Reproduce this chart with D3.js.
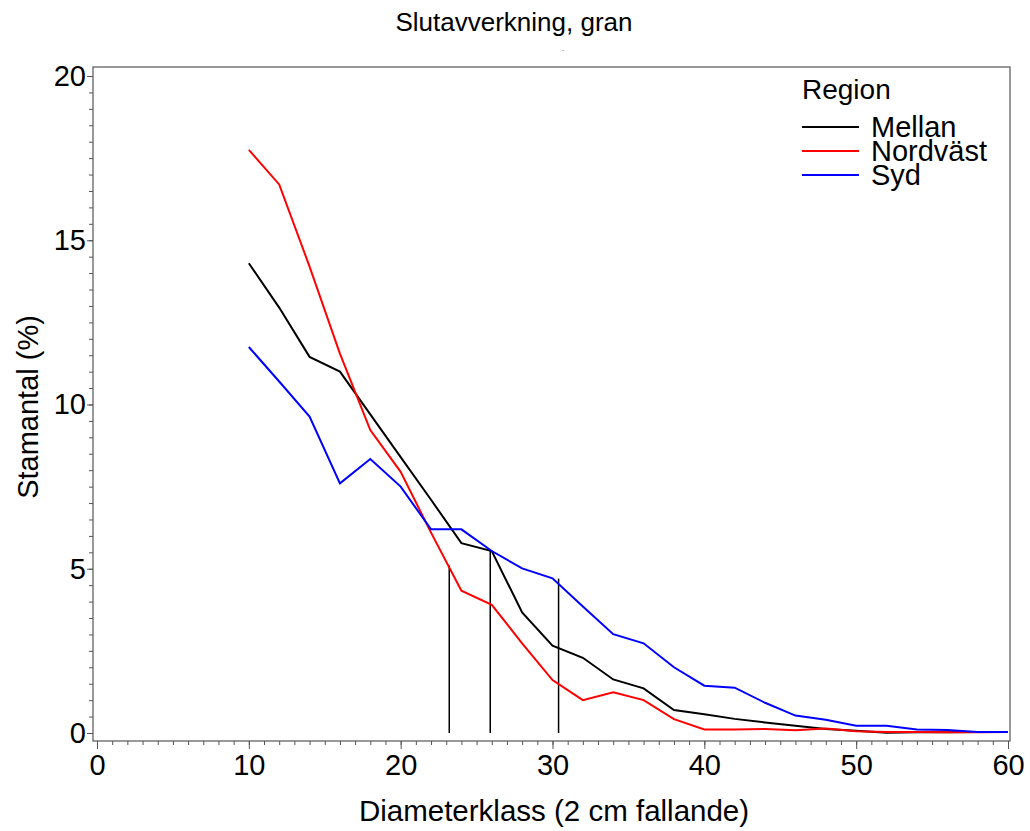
<!DOCTYPE html>
<html lang="sv">
<head>
<meta charset="UTF-8">
<script src="https://cdnjs.cloudflare.com/ajax/libs/d3/7.8.5/d3.min.js"></script>
<title>Slutavverkning, gran</title>
<style>
  body { margin: 0; background: #fff; }
  text { font-family: "Liberation Sans", Arial, sans-serif; }
</style>
</head>
<body>
<div id="graph"></div>
<script>
// diameter classes (cm)
let diam = [10, 12, 14, 16, 18, 20, 22, 24, 26, 28, 30, 32, 34, 36, 38, 40, 42, 44, 46, 48, 50, 52, 54, 56, 58, 60];

// stem count share (%) per region
let mellan = [14.3, 12.95, 11.45, 11.0, 9.7, 8.4, 7.1, 5.78, 5.54, 3.67, 2.66, 2.29, 1.63, 1.36, 0.70, 0.57, 0.43, 0.32, 0.22, 0.12, 0.07, 0.01, 0.02, 0.02, 0.03, 0.03];
let nordvast = [17.75, 16.7, 14.2, 11.55, 9.22, 7.95, 6.1, 4.33, 3.9, 2.73, 1.61, 1.0, 1.24, 1.0, 0.42, 0.11, 0.11, 0.12, 0.08, 0.14, 0.05, 0.03, 0.03, 0.02, 0.02, 0.03];
let syd = [11.75, 10.7, 9.63, 7.6, 8.34, 7.5, 6.2, 6.2, 5.54, 5.01, 4.71, 3.85, 3.01, 2.73, 2.0, 1.44, 1.38, 0.92, 0.53, 0.4, 0.22, 0.22, 0.11, 0.09, 0.03, 0.03];

// vertical reference lines (x position, height)
let dropX = [23.2, 25.9, 30.4];
let dropY = [5.1, 5.55, 4.7];

let regions = ["Mellan", "Nordväst", "Syd"];
let colors = ["#000000", "#ff0000", "#0000ff"];
let seriesList = [mellan, nordvast, syd];

let xTicks = [0, 10, 20, 30, 40, 50, 60];
let yTicks = [0, 5, 10, 15, 20];

let width = 1030;
let height = 831;

// plot frame
let frameLeft = 93, frameTop = 67, frameRight = 1010, frameBottom = 741;

let x = d3.scaleLinear().domain([0, 60]).range([97, 1008]);
let y = d3.scaleLinear().domain([0, 20]).range([733, 76]);

let svg = d3.select("#graph")
  .append("svg")
  .attr("width", width)
  .attr("height", height);

// title
svg.append("text")
  .attr("x", 514).attr("y", 31)
  .attr("text-anchor", "middle")
  .attr("font-size", "26px")
  .text("Slutavverkning, gran");

svg.append("text")
  .attr("x", 563).attr("y", 52)
  .attr("text-anchor", "middle")
  .attr("font-size", "8px")
  .attr("fill", "#888")
  .text("-");

// frame
svg.append("rect")
  .attr("x", frameLeft).attr("y", frameTop)
  .attr("width", frameRight - frameLeft)
  .attr("height", frameBottom - frameTop)
  .attr("fill", "none")
  .attr("stroke", "#555")
  .attr("stroke-width", 1.2);

// y axis: minor then major
let yMinor = d3.range(0, 20.01, 0.5);
let yAxisMinor = svg.append("g")
  .attr("transform", "translate(" + frameLeft + ",0)")
  .call(d3.axisLeft(y).tickValues(yMinor).tickSize(4).tickFormat(""));
yAxisMinor.select(".domain").remove();
yAxisMinor.selectAll("line").attr("stroke", "#555");

let yAxis = svg.append("g")
  .attr("transform", "translate(" + frameLeft + ",0)")
  .call(d3.axisLeft(y).tickValues(yTicks).tickSize(6).tickPadding(1).tickFormat(d3.format("d")));
yAxis.select(".domain").remove();
yAxis.selectAll("line").attr("stroke", "#555");
yAxis.selectAll("text")
  .attr("font-size", "29px")
  .attr("fill", "#000")
  .attr("font-family", "Liberation Sans, Arial, sans-serif");

// x axis: minor then major
let xMinor = d3.range(0, 60.01, 1);
let xAxisMinor = svg.append("g")
  .attr("transform", "translate(0," + frameBottom + ")")
  .call(d3.axisBottom(x).tickValues(xMinor).tickSize(4).tickFormat(""));
xAxisMinor.select(".domain").remove();
xAxisMinor.selectAll("line").attr("stroke", "#555");

let xAxis = svg.append("g")
  .attr("transform", "translate(0," + frameBottom + ")")
  .call(d3.axisBottom(x).tickValues(xTicks).tickSize(8).tickPadding(5).tickFormat(d3.format("d")));
xAxis.select(".domain").remove();
xAxis.selectAll("line").attr("stroke", "#555");
xAxis.selectAll("text")
  .attr("font-size", "29px")
  .attr("fill", "#000")
  .attr("font-family", "Liberation Sans, Arial, sans-serif");

// axis labels
svg.append("text")
  .attr("x", 554).attr("y", 821)
  .attr("text-anchor", "middle")
  .attr("font-size", "29.5px")
  .text("Diameterklass (2 cm fallande)");

svg.append("text")
  .attr("transform", "translate(38,407) rotate(-90)")
  .attr("text-anchor", "middle")
  .attr("font-size", "29px")
  .text("Stamantal (%)");

// vertical reference lines
svg.selectAll("line.drop")
  .data(dropX)
  .enter()
  .append("line")
  .attr("class", "drop")
  .attr("x1", function(d) { return x(d); })
  .attr("x2", function(d) { return x(d); })
  .attr("y1", function(d, i) { return y(dropY[i]); })
  .attr("y2", y(0))
  .attr("stroke", "#000")
  .attr("stroke-width", 1.5);

// series lines
let line = d3.line()
  .x(function(d) { return x(d[0]); })
  .y(function(d) { return y(d[1]); });

seriesList.forEach(function(vals, k) {
  svg.append("path")
    .datum(diam.map(function(dv, i) { return [dv, vals[i]]; }))
    .attr("d", line)
    .attr("fill", "none")
    .attr("stroke", colors[k])
    .attr("stroke-width", 2);
});

// legend
let legend = svg.append("g");
legend.append("text")
  .attr("x", 802).attr("y", 99)
  .attr("font-size", "28px")
  .text("Region");

regions.forEach(function(name, i) {
  let ly = 127 + i * 24;
  legend.append("line")
    .attr("x1", 802).attr("x2", 859)
    .attr("y1", ly).attr("y2", ly)
    .attr("stroke", colors[i])
    .attr("stroke-width", 2);
  legend.append("text")
    .attr("x", 871).attr("y", ly + 10)
    .attr("font-size", "29px")
    .text(name);
});
</script>
</body>
</html>
